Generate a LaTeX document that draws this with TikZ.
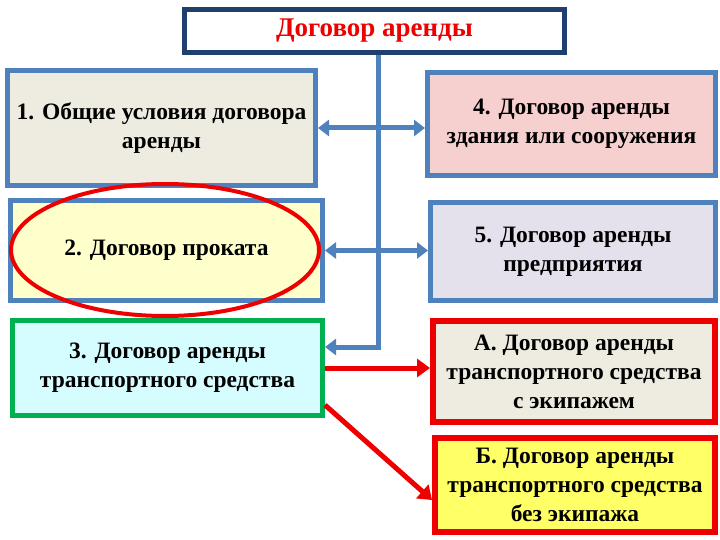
\documentclass[tikz,border=0pt]{standalone}
\usepackage{fontspec}
\setmainfont{Liberation Serif}
\usetikzlibrary{shapes.geometric}
\usetikzlibrary{positioning}
\usetikzlibrary{arrows.meta}

\definecolor{frameblue}{HTML}{4F81BD}
\definecolor{darkframe}{HTML}{1F3F6E}
\definecolor{beigefill}{HTML}{EEECE1}
\definecolor{pinkfill}{HTML}{F6CFCF}
\definecolor{paleyellow}{HTML}{FFFFCC}
\definecolor{lavender}{HTML}{E4E0EC}
\definecolor{palecyan}{HTML}{D5FCFF}
\definecolor{greenframe}{HTML}{00B050}
\definecolor{brightyellow}{HTML}{FFFF66}
\definecolor{alarmred}{HTML}{EE0000}

\tikzset{
  box/.style={draw=frameblue, line width=5pt, rectangle, align=center, inner sep=0pt,
    font=\bfseries\fontsize{23.5}{29}\selectfont},
  redbox/.style={box, draw=alarmred, line width=6pt},
  link/.style={frameblue, line width=5pt, {Triangle[length=11pt,width=16pt]}-{Triangle[length=11pt,width=16pt]}},
  redlink/.style={alarmred, line width=5pt, -{Triangle[length=13pt,width=18pt]}}
}

\begin{document}
\begin{tikzpicture}[x=1pt,y=-1pt]
  \useasboundingbox (0,0) rectangle (720,540);

  % heading
  \node[box, draw=darkframe, fill=white, minimum width=380pt, minimum height=43pt,
        font=\bfseries\fontsize{27}{30}\selectfont, text=alarmred] (top) at (374.5,31) {Договор аренды};

  % left column
  \node[box, fill=beigefill, minimum width=308pt, minimum height=115pt] (general) at (161.5,128) {1. Общие условия договора\\аренды};
  \node[box, fill=paleyellow, minimum width=312pt, minimum height=100pt] (hire) at (166.5,250.5) {2. Договор проката};
  \node[box, draw=greenframe, fill=palecyan, minimum width=310pt, minimum height=95pt] (vehicle) at (167.5,368) {3. Договор аренды\\транспортного средства};

  % right column
  \node[box, fill=pinkfill, minimum width=288pt, minimum height=103pt] (building) at (571.5,124) {4. Договор аренды\\здания или сооружения};
  \node[box, fill=lavender, minimum width=285pt, minimum height=98pt] (enterprise) at (573,251.5) {5. Договор аренды\\предприятия};
  \node[redbox, fill=beigefill, minimum width=282pt, minimum height=101pt] (withcrew) at (574,371.5) {А. Договор аренды\\транспортного средства\\с экипажем};
  \node[redbox, fill=brightyellow, minimum width=280pt, minimum height=94pt] (nocrew) at (575,485) {Б. Договор аренды\\транспортного средства\\без экипажа};

  % highlight
  \node[draw=alarmred, line width=4pt, ellipse, minimum width=308pt, minimum height=132pt] (mark) at (165,250) {};

  % trunk
  \coordinate (turn) at (378,347);
  \draw[frameblue, line width=5pt, -{Triangle[length=11pt,width=16pt]}] (turn |- top.south) -- (turn) -- (turn -| vehicle.east);
  \draw[link] (general.east) -- (general.east -| building.west);
  \draw[link] (hire.east) -- (hire.east -| enterprise.west);

  % kinds of vehicle lease
  \draw[redlink] (vehicle.east) -- (vehicle.east -| withcrew.west);
  \draw[redlink] ([yshift=-37pt]vehicle.east) -- ([yshift=-15pt]nocrew.west);
\end{tikzpicture}
\end{document}
